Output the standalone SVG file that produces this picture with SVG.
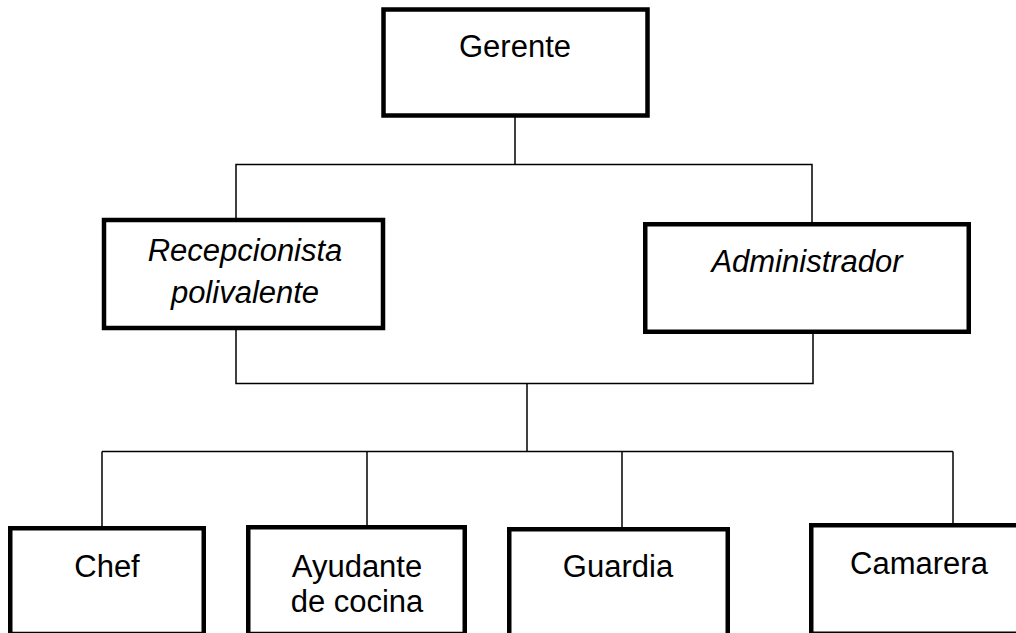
<svg xmlns="http://www.w3.org/2000/svg" width="1016" height="633" viewBox="0 0 1016 633">
<style>
.box{fill:#fff;stroke:#000;stroke-width:4.5}
.t{font-family:"Liberation Sans",Arial,sans-serif;font-size:31px;fill:#000;text-anchor:middle}
.i{font-style:italic}
.c{stroke:#000;stroke-width:1.5;fill:none}
</style>
<rect width="1016" height="633" fill="#fff"/>
<g id="connectors">
<line class="c" x1="515" y1="113" x2="515" y2="164.5"/>
<polyline class="c" points="236,221 236,164.5 812,164.5 812,224"/>
<polyline class="c" points="236,328 236,383.5 813,383.5 813,332"/>
<line class="c" x1="527" y1="383.5" x2="527" y2="451.5"/>
<line class="c" x1="102" y1="451.5" x2="953" y2="451.5"/>
<line class="c" x1="102" y1="451.5" x2="102" y2="528"/>
<line class="c" x1="367" y1="451.5" x2="367" y2="527"/>
<line class="c" x1="622" y1="451.5" x2="622" y2="529"/>
<line class="c" x1="953" y1="451.5" x2="953" y2="525"/>
</g>
<g id="gerente">
<rect class="box" x="383.5" y="9.5" width="264" height="106" stroke-width="5"/>
<text class="t" x="515" y="57">Gerente</text>
</g>
<g id="recepcionista">
<rect class="box" x="104" y="220" width="279" height="108" stroke-width="4"/>
<text class="t i" x="245" y="261">Recepcionista</text>
<text class="t i" x="245" y="303">polivalente</text>
</g>
<g id="administrador">
<rect class="box" x="645.25" y="224.25" width="323.5" height="107.5"/>
<text class="t i" x="807" y="272">Administrador</text>
</g>
<g id="chef">
<rect class="box" x="10.25" y="528.25" width="193.5" height="105.75"/>
<text class="t" x="107" y="577">Chef</text>
</g>
<g id="ayudante">
<rect class="box" x="248.25" y="527.25" width="216.5" height="106.75"/>
<text class="t" x="357" y="577">Ayudante</text>
<text class="t" x="357" y="612">de cocina</text>
</g>
<g id="guardia">
<rect class="box" x="509.25" y="529.25" width="218.5" height="120"/>
<text class="t" x="618" y="577">Guardia</text>
</g>
<g id="camarera">
<rect class="box" x="811.25" y="525.25" width="230" height="108.5"/>
<text class="t" x="919" y="574">Camarera</text>
</g>
</svg>
